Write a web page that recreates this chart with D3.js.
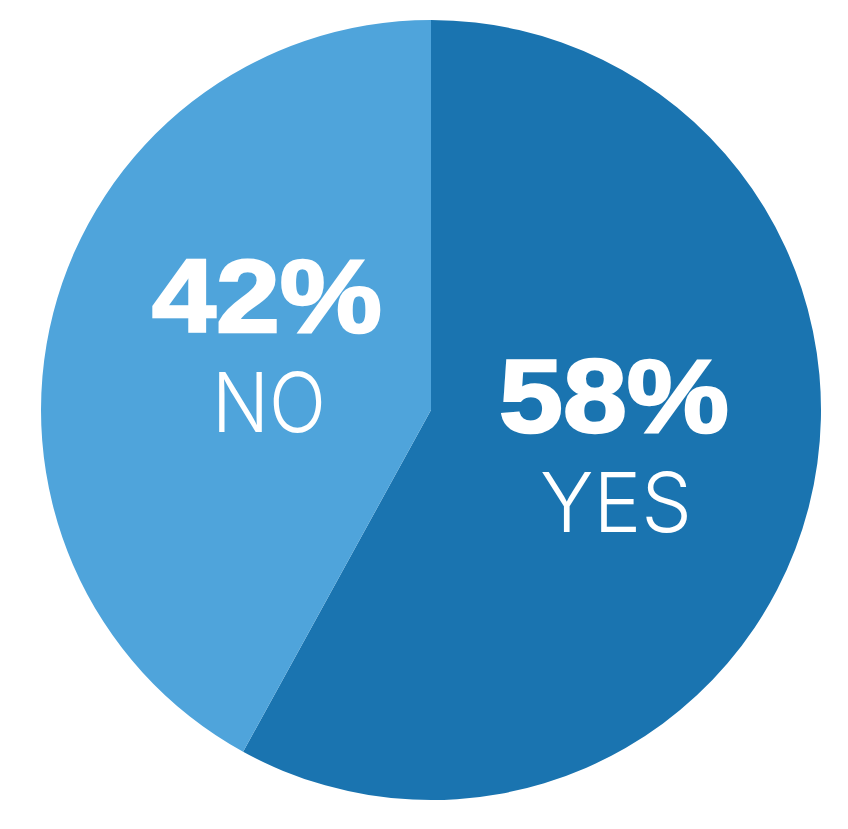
<!DOCTYPE html>
<html><head><meta charset="utf-8">
<script src="https://cdn.jsdelivr.net/npm/d3@7"></script>
<style>html,body{margin:0;padding:0;background:#fff}</style>
</head><body>
<svg id="c" width="848" height="829"></svg>
<script>
const categories = ["YES", "NO"];
const values = [58, 42];
const labels = ["58%", "42%"];
const colors = ["#1a74b0", "#4fa4db"];

const svg = d3.select("#c");
const cx = 431, cy = 410, r = 390;
const g = svg.append("g").attr("transform", `translate(${cx},${cy})`);
const pie = d3.pie().sort(null).value(d => d.v);
const data = categories.map((c, i) => ({c, v: values[i], l: labels[i], col: colors[i]}));
const arcs = pie(data);
const arc = d3.arc().innerRadius(0).outerRadius(r);
g.selectAll("path").data(arcs).enter().append("path")
  .attr("d", arc).attr("fill", d => d.data.col);

// label positions (relative to center) per category
const pos = {YES: {x: 183, y: 22, w: 233, w2: 152}, NO: {x: -164, y: -78, w: 233, w2: 114}};
arcs.forEach(a => {
  const p = pos[a.data.c];
  g.append("text").attr("x", p.x).attr("y", p.y)
    .attr("text-anchor", "middle")
    .attr("font-family", "Liberation Sans, Arial, sans-serif")
    .attr("font-weight", 700).attr("font-size", 104)
    .attr("fill", "#fff").attr("stroke", "#fff").attr("stroke-width", 2.5)
    .attr("textLength", p.w - 3).attr("lengthAdjust", "spacingAndGlyphs")
    .text(a.data.l);
  g.append("text").attr("x", p.x + 2).attr("y", p.y + 100)
    .attr("text-anchor", "middle")
    .attr("font-family", "Inter, Open Sans, sans-serif")
    .attr("font-weight", 300).attr("font-size", 83)
    .attr("fill", "#fff")
    .attr("textLength", p.w2).attr("lengthAdjust", "spacingAndGlyphs")
    .text(a.data.c);
});
</script>
</body></html>
